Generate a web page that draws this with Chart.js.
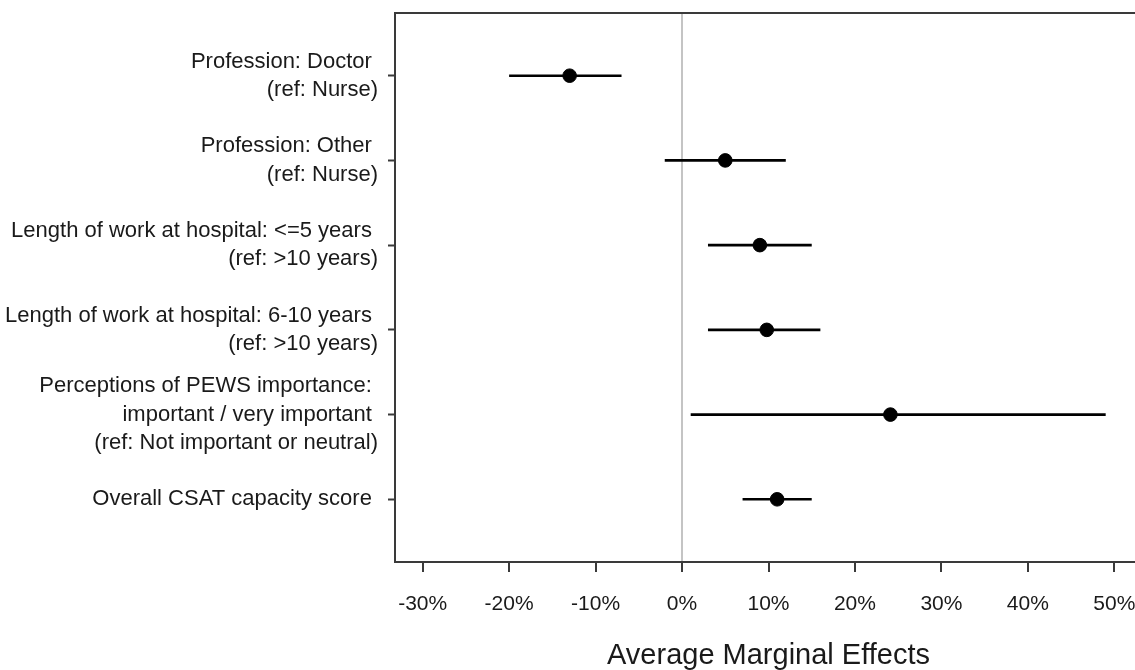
<!DOCTYPE html>
<html>
<head>
<meta charset="utf-8">
<script src="https://cdn.jsdelivr.net/npm/chart.js@4.4.1/dist/chart.umd.min.js"></script>
<style>
  html, body { margin: 0; padding: 0; background: #ffffff; overflow: hidden; }
  #wrap { width: 1150px; height: 670px; }
</style>
</head>
<body>
<div id="wrap"><canvas id="c" width="1150" height="670"></canvas></div>
<script>
// Categories (top to bottom), each as lines of text
const categories = [
  ["Profession: Doctor ", "(ref: Nurse)"],
  ["Profession: Other ", "(ref: Nurse)"],
  ["Length of work at hospital: <=5 years ", "(ref: >10 years)"],
  ["Length of work at hospital: 6-10 years ", "(ref: >10 years)"],
  ["Perceptions of PEWS importance: ", "important / very important ", "(ref: Not important or neutral)"],
  ["Overall CSAT capacity score "]
];
// Average marginal effects (%) and 95% CI bounds (%)
const estimates = [-13, 5, 9, 9.8, 24.1, 11];
const lowerCI   = [-20, -2, 3, 3, 1, 7];
const upperCI   = [-7, 12, 15, 16, 49, 15];
// Axis ticks
const xTicks = [-30, -20, -10, 0, 10, 20, 30, 40, 50];
const yTicks = [1, 2, 3, 4, 5, 6];

const FONT = "'Liberation Sans', Arial, Helvetica, sans-serif";
const TEXT = '#1a1a1a';
const AXIS = '#3a3a3a';

const datasets = [];
categories.forEach((c, i) => {
  datasets.push({
    type: 'line',
    data: [{x: lowerCI[i], y: i + 1}, {x: upperCI[i], y: i + 1}],
    borderColor: '#000',
    borderWidth: 2.6,
    pointRadius: 0,
    fill: false,
    order: 2
  });
});
datasets.push({
  type: 'scatter',
  data: estimates.map((v, i) => ({x: v, y: i + 1})),
  backgroundColor: '#000',
  borderColor: '#000',
  pointRadius: 6.8,
  pointStyle: 'circle',
  order: 1
});

const boxPlugin = {
  id: 'boxTop',
  afterDatasetsDraw(chart) {
    const a = chart.chartArea, ctx = chart.ctx;
    ctx.save();
    ctx.strokeStyle = AXIS;
    ctx.lineWidth = 2;
    ctx.beginPath();
    ctx.moveTo(a.left - 1, a.top);
    ctx.lineTo(a.right + 5, a.top);
    ctx.stroke();
    ctx.restore();
  }
};

new Chart(document.getElementById('c'), {
  data: { datasets },
  options: {
    responsive: false,
    animation: false,
    layout: { padding: { top: 13, right: 8, left: 0, bottom: 0 } },
    plugins: { legend: { display: false }, tooltip: { enabled: false } },
    scales: {
      x: {
        type: 'linear',
        min: -33.2,
        max: 53.2,
        afterBuildTicks(scale) { scale.ticks = xTicks.map(v => ({ value: v })); },
        afterFit(scale) { scale.height = 108; scale.paddingLeft = 0; scale.paddingRight = 0; },
        ticks: {
          callback: v => v + '%',
          color: TEXT,
          font: { family: FONT, size: 21 },
          padding: 20,
          maxRotation: 0,
          autoSkip: false
        },
        grid: {
          drawOnChartArea: true,
          color: ctx => (ctx.tick && ctx.tick.value === 0) ? '#c4c4c4' : 'rgba(0,0,0,0)',
          lineWidth: 2,
          tickColor: AXIS,
          tickLength: 10,
          tickWidth: 2
        },
        border: { display: true, color: AXIS, width: 2 },
        title: {
          display: true,
          text: 'Average Marginal Effects',
          color: TEXT,
          font: { family: FONT, size: 29, lineHeight: 1.0 },
          padding: { top: 0, bottom: 0 }
        }
      },
      y: {
        type: 'linear',
        reverse: true,
        min: 0.26,
        max: 6.74,
        afterBuildTicks(scale) { scale.ticks = yTicks.map(v => ({ value: v })); },
        afterFit(scale) { scale.width = 395; scale.paddingTop = 0; scale.paddingBottom = 0; },
        ticks: {
          callback: v => categories[v - 1],
          color: TEXT,
          font: { family: FONT, size: 22, lineHeight: 1.28 },
          padding: 10,
          autoSkip: false
        },
        grid: {
          drawOnChartArea: false,
          tickColor: AXIS,
          tickLength: 7,
          tickWidth: 2
        },
        border: { display: true, color: AXIS, width: 2 }
      }
    }
  },
  plugins: [boxPlugin]
});
</script>
</body>
</html>
